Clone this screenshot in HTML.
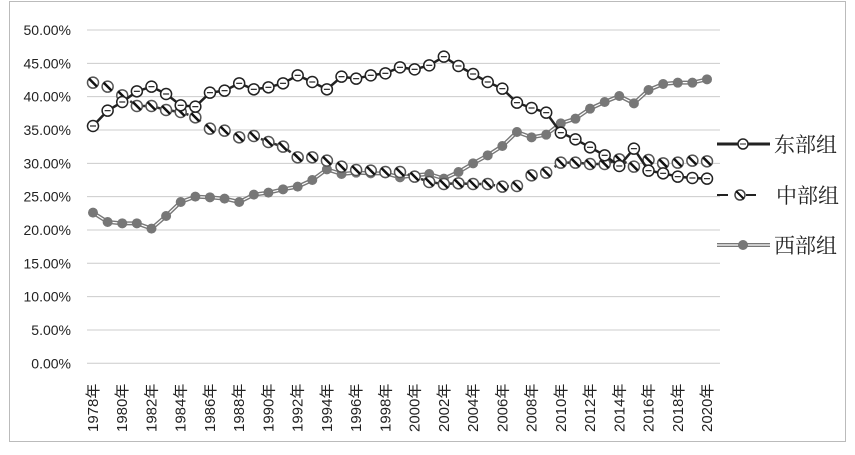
<!DOCTYPE html>
<html><head><meta charset="utf-8"><style>
body{margin:0;background:#fff}
svg text{font-family:"Liberation Sans","Noto Sans CJK SC",sans-serif;fill:#222}
svg text.lg{font-family:"Liberation Serif","Noto Serif CJK SC",serif}
</style></head><body>
<svg id="chart" width="855" height="450" xmlns="http://www.w3.org/2000/svg">
<rect x="9.5" y="1.5" width="836" height="440" fill="#fff" stroke="#bbb"/>
<g id="grid"></g><g id="ylab"></g><g id="xlab"></g><g id="series"></g>
<g id="legend">
 <g>
  <line x1="717" y1="144" x2="770" y2="144" stroke="#222" stroke-width="3"/>
  <circle cx="743" cy="144" r="5" fill="#fff" stroke="#222" stroke-width="1.5"/><line x1="740" y1="144" x2="746" y2="144" stroke="#222"/>
  <text class="lg" x="774" y="152" font-size="21">东部组</text></g>
 <g>
  <line x1="717" y1="195" x2="728" y2="195" stroke="#222" stroke-width="2"/><line x1="746" y1="195" x2="756" y2="195" stroke="#222" stroke-width="2"/>
  <circle cx="740" cy="195" r="5" fill="#fff" stroke="#444" stroke-width="1.5"/><line x1="736" y1="191" x2="744" y2="199" stroke="#111" stroke-width="2"/>
  <text class="lg" x="776" y="203" font-size="21">中部组</text></g>
 <g>
  <line x1="717" y1="245" x2="770" y2="245" stroke="#777" stroke-width="4"/><line x1="717" y1="245" x2="770" y2="245" stroke="#fff" stroke-width="1.2"/>
  <circle cx="743" cy="245" r="5" fill="#777"/>
  <text class="lg" x="774" y="253" font-size="21">西部组</text></g>
</g>
</svg>
<script>
const years=[];for(let y=1978;y<=2020;y++)years.push(y);
const yTicks=[0,5,10,15,20,25,30,35,40,45,50];
const east=[35.6,37.9,39.2,40.8,41.5,40.4,38.7,38.5,40.6,40.9,42.0,41.1,41.4,42.0,43.2,42.2,41.1,43.0,42.7,43.2,43.5,44.4,44.1,44.7,46.0,44.6,43.4,42.2,41.2,39.1,38.3,37.6,34.6,33.6,32.4,31.2,29.6,32.2,28.9,28.5,28.0,27.8,27.7];
const central=[42.1,41.5,40.2,38.6,38.6,38.0,37.7,36.9,35.2,34.9,33.9,34.1,33.2,32.5,30.9,30.9,30.4,29.5,29.0,28.9,28.7,28.7,28.0,27.2,26.9,27.0,26.9,26.9,26.5,26.6,28.2,28.6,30.1,30.1,29.9,29.9,30.6,29.5,30.5,30.0,30.1,30.4,30.3];
const west=[22.6,21.2,21.0,21.0,20.2,22.1,24.2,25.0,24.9,24.7,24.2,25.3,25.6,26.1,26.5,27.5,29.1,28.4,28.6,28.5,28.5,27.9,28.2,28.4,27.7,28.7,30.0,31.2,32.6,34.7,33.9,34.3,36.0,36.7,38.2,39.2,40.1,39.0,41.0,41.9,42.1,42.1,42.6];
const NS='http://www.w3.org/2000/svg';
const x0=93,x1=707,yb=363.3,yt=30,L=87,R=720;
const X=i=>x0+(x1-x0)*i/(years.length-1);
const Y=v=>yb-(yb-yt)*v/50;
function el(t,a,p){const e=document.createElementNS(NS,t);for(const k in a)e.setAttribute(k,a[k]);p.appendChild(e);return e;}
const g=document.getElementById('grid'),yl=document.getElementById('ylab'),xl=document.getElementById('xlab'),s=document.getElementById('series');
yTicks.forEach(v=>{
 const ln=el('line',{x1:L,x2:R,y1:Y(v),y2:Y(v),stroke:'#ccc','stroke-width':1},g);
 
 
 const t=el('text',{x:71,y:Y(v)+5,'text-anchor':'end','font-size':14},yl);t.textContent=v.toFixed(2)+'%';
 
 
});
years.forEach((yr,i)=>{if(i%2)return;
 const t=el('text',{transform:`translate(${X(i)+5},432) rotate(-90)`,'font-size':15},xl);t.textContent=yr+'年';
 
 
});
function pts(a){return a.map((v,i)=>X(i)+','+Y(v)).join(' ');}
let p=el('polyline',{points:pts(west),fill:'none',stroke:'#777','stroke-width':4},s);


el('polyline',{points:pts(west),fill:'none',stroke:'#fff','stroke-width':1.2},s);
west.forEach((v,i)=>{const c=el('circle',{cx:X(i),cy:Y(v),r:5,fill:'#777'},s);
 
 });
p=el('polyline',{points:pts(central),fill:'none',stroke:'#333','stroke-width':2.5,'stroke-dasharray':'5 9'},s);


central.forEach((v,i)=>{const gg=el('g',{},s);
 
 
 el('circle',{cx:X(i),cy:Y(v),r:5.5,fill:'#fff',stroke:'#555','stroke-width':1.5},gg);
 el('line',{x1:X(i)-4,y1:Y(v)-4,x2:X(i)+4,y2:Y(v)+4,stroke:'#111','stroke-width':2.5},gg);});
p=el('polyline',{points:pts(east),fill:'none',stroke:'#222','stroke-width':2.5},s);


east.forEach((v,i)=>{const gg=el('g',{},s);
 
 
 el('circle',{cx:X(i),cy:Y(v),r:5.5,fill:'#fff',stroke:'#222','stroke-width':1.5},gg);
 el('line',{x1:X(i)-3,y1:Y(v),x2:X(i)+3,y2:Y(v),stroke:'#222','stroke-width':1.2},gg);});
</script>
</body></html>
